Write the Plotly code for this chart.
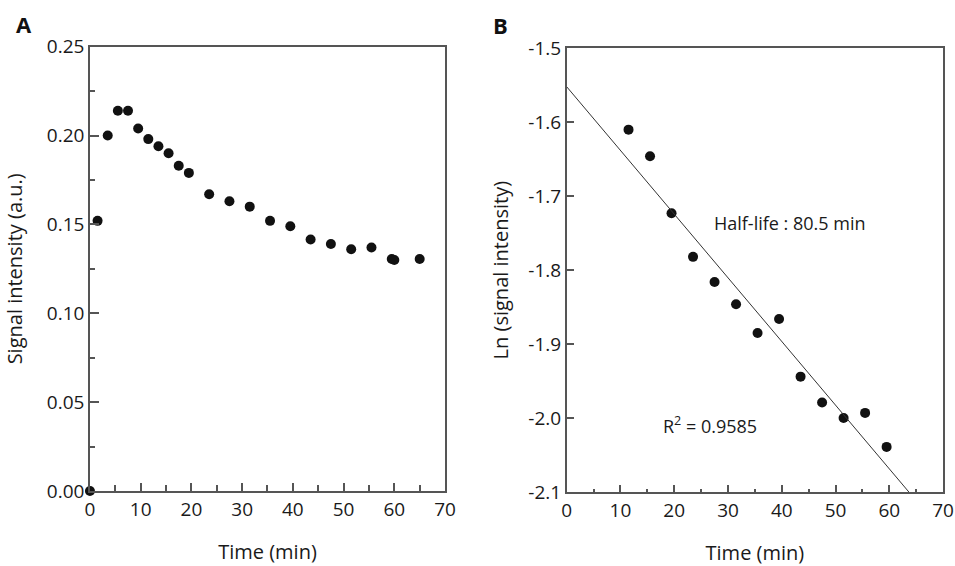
import math
import plotly.graph_objects as go

# ---- data ----
time_a = [0, 1.5, 3.5, 5.5, 7.5, 9.5, 11.5, 13.5, 15.5, 17.5, 19.5, 23.5, 27.5,
          31.5, 35.5, 39.5, 43.5, 47.5, 51.5, 55.5, 59.5, 60.0, 65.0]
signal_a = [0.0, 0.152, 0.200, 0.214, 0.214, 0.204, 0.198, 0.194, 0.190, 0.183,
            0.179, 0.167, 0.163, 0.160, 0.152, 0.149, 0.1415, 0.139, 0.136, 0.137,
            0.1305, 0.130, 0.1305]

time_b = [11.5, 15.5, 19.5, 23.5, 27.5, 31.5, 35.5, 39.5, 43.5, 47.5, 51.5, 55.5, 59.5]
ln_b = [-1.610, -1.646, -1.723, -1.782, -1.816, -1.846, -1.885, -1.866, -1.944,
        -1.979, -2.000, -1.993, -2.039]

fit_intercept = -1.552
half_life = 80.5
fit_x = [0, 70]

x_ticks = [0, 10, 20, 30, 40, 50, 60, 70]
ya_ticks = [0.00, 0.05, 0.10, 0.15, 0.20, 0.25]
yb_ticks = [-2.1, -2.0, -1.9, -1.8, -1.7, -1.6, -1.5]
yb_labels = ["-2.1", "-2.0", "-1.9", "-1.8", "-1.7", "-1.6", "-1.5"]

slope = -math.log(2) / half_life
fit_y = [fit_intercept + slope * x for x in fit_x]

FONT = "Open Sans"
TXT = "#1a1a1a"
AX = "#555555"

fig = go.Figure()
fig.add_trace(go.Scatter(x=time_a, y=signal_a, mode="markers",
                         marker=dict(size=10, color="#111111"),
                         cliponaxis=False, xaxis="x", yaxis="y", showlegend=False))
fig.add_trace(go.Scatter(x=time_b, y=ln_b, mode="markers",
                         marker=dict(size=10, color="#111111"),
                         xaxis="x2", yaxis="y2", showlegend=False))
fig.add_trace(go.Scatter(x=fit_x, y=fit_y, mode="lines",
                         line=dict(color="#333333", width=1),
                         xaxis="x2", yaxis="y2", showlegend=False))

common_axis = dict(showline=True, linecolor=AX, linewidth=1.5, mirror=True,
                   showgrid=False, zeroline=False, ticks="inside",
                   tickcolor=AX, tickwidth=1.5, automargin=False,
                   ticklabeloverflow="allow",
                   tickfont=dict(family=FONT, size=19, color=TXT))

TFONT = dict(family=FONT, size=20, color=TXT)

fig.update_layout(
    width=955, height=566,
    margin=dict(l=0, r=0, t=0, b=0),
    paper_bgcolor="white", plot_bgcolor="white",
    font=dict(family=FONT, color=TXT),
    xaxis=dict(**common_axis, domain=[0.0942, 0.466], range=[0, 70],
               tickvals=x_ticks, ticklen=8,
               minor=dict(dtick=5, ticks="inside", ticklen=6, tickcolor=AX, tickwidth=1.5),
               title=dict(text="Time (min)", font=TFONT, standoff=24),
               anchor="y"),
    yaxis=dict(**common_axis, domain=[0.1325, 0.9175], range=[0, 0.25],
               tickvals=ya_ticks, tickformat=".2f", ticklen=9,
               minor=dict(dtick=0.025, ticks="inside", ticklen=5, tickcolor=AX, tickwidth=1.5),
               title=dict(text="Signal intensity (a.u.)", font=TFONT, standoff=19),
               anchor="x"),
    xaxis2=dict(**common_axis, domain=[0.5934, 0.9875], range=[0, 70],
                tickvals=x_ticks, ticklen=7,
                minor=dict(dtick=5, ticks="inside", ticklen=3, tickcolor=AX, tickwidth=1.5),
                title=dict(text="Time (min)", font=TFONT, standoff=26),
                anchor="y2"),
    yaxis2=dict(**common_axis, domain=[0.1307, 0.9147], range=[-2.1, -1.5],
                tickvals=yb_ticks, ticktext=yb_labels, ticklen=8,
                title=dict(text="Ln (signal intensity)", font=TFONT, standoff=14),
                anchor="x2"),
    annotations=[
        dict(text="<b>A</b>", x=24 / 955, y=1 - 24 / 566, xref="paper", yref="paper",
             xanchor="center", yanchor="middle",
             showarrow=False, font=dict(family=FONT, size=22, color="#111111")),
        dict(text="<b>B</b>", x=500 / 955, y=1 - 25 / 566, xref="paper", yref="paper",
             xanchor="center", yanchor="middle",
             showarrow=False, font=dict(family=FONT, size=22, color="#111111")),
        dict(text="Half-life : 80.5 min", x=27.1, y=-1.736, xref="x2", yref="y2",
             xanchor="left", showarrow=False, font=dict(family=FONT, size=18, color=TXT)),
        dict(text="R<sup>2</sup> = 0.9585", x=17.6, y=-2.009, xref="x2", yref="y2",
             xanchor="left", showarrow=False, font=dict(family=FONT, size=18, color=TXT)),
    ],
)

fig.write_html("out.html", config={"displayModeBar": False},
               post_script="document.body.style.margin='0';")
